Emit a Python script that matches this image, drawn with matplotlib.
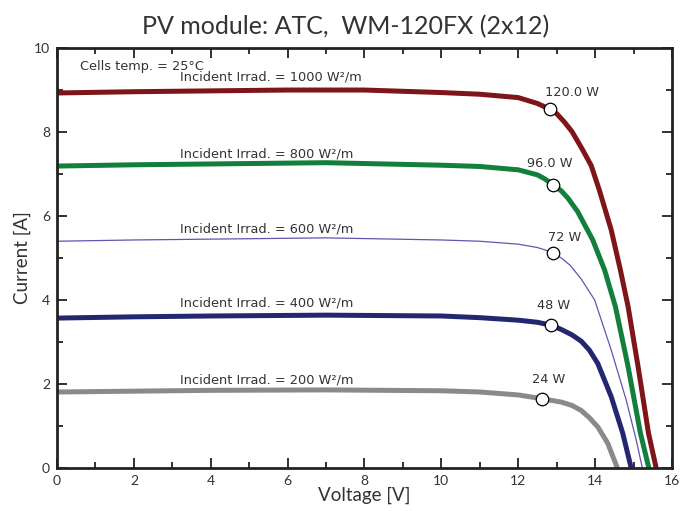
import numpy as np
import matplotlib
matplotlib.use("Agg")
import matplotlib.pyplot as plt
from matplotlib.ticker import MultipleLocator

# ---- data (voltage [V], current [A]) ----
v_1000 = [0, 2, 4, 6, 8, 10, 11, 12, 12.5, 12.83, 13.0, 13.2, 13.4, 13.68, 13.9, 14.11, 14.42, 14.66, 14.86, 15.12, 15.39, 15.59]
i_1000 = [8.93, 8.96, 8.98, 9.0, 9.0, 8.94, 8.9, 8.82, 8.68, 8.54, 8.44, 8.24, 8.01, 7.57, 7.2, 6.62, 5.67, 4.71, 3.84, 2.41, 0.83, 0.0]

v_800 = [0, 2, 4, 7, 10, 11, 12, 12.5, 12.7, 12.9, 13.12, 13.3, 13.55, 13.94, 14.25, 14.53, 14.86, 15.18, 15.4]
i_800 = [7.19, 7.22, 7.24, 7.27, 7.21, 7.18, 7.1, 6.98, 6.88, 6.75, 6.6, 6.42, 6.1, 5.43, 4.71, 3.84, 2.41, 0.83, 0.0]

v_600 = [0, 2, 4, 7, 10, 11, 12, 12.5, 12.91, 13.12, 13.35, 13.64, 13.99, 14.42, 14.81, 15.07, 15.23]
i_600 = [5.40, 5.43, 5.45, 5.48, 5.43, 5.40, 5.33, 5.25, 5.13, 5.0, 4.83, 4.5, 4.0, 2.81, 1.62, 0.67, 0.0]

v_400 = [0, 2, 4, 7, 10, 11, 12, 12.5, 12.86, 13.12, 13.4, 13.64, 13.85, 14.07, 14.42, 14.72, 14.94]
i_400 = [3.57, 3.60, 3.62, 3.64, 3.62, 3.58, 3.52, 3.47, 3.40, 3.30, 3.17, 3.02, 2.81, 2.49, 1.70, 0.83, 0.0]

v_200 = [0, 2, 4, 7, 10, 11, 12, 12.62, 13.12, 13.4, 13.64, 13.85, 14.07, 14.33, 14.58]
i_200 = [1.81, 1.83, 1.85, 1.86, 1.84, 1.81, 1.74, 1.65, 1.57, 1.49, 1.37, 1.2, 0.98, 0.59, 0.0]

# maximum power points and their labels
mpp_v = [12.83, 12.9, 12.91, 12.86, 12.62]
mpp_i = [8.54, 6.75, 5.13, 3.40, 1.65]
mpp_labels = ["120.0 W", "96.0 W", "72 W", "48 W", "24 W"]
mpp_label_v = [13.4, 12.83, 13.2, 12.93, 12.8]
mpp_label_i = [8.95, 7.26, 5.5, 3.88, 2.1]

irrad = [1000, 800, 600, 400, 200]
irrad_label_i = [9.31, 7.48, 5.69, 3.93, 2.1]

curves = [(v_1000, i_1000), (v_800, i_800), (v_600, i_600), (v_400, i_400), (v_200, i_200)]
colors = ["#7e1518", "#12803c", "#6a50b0", "#23276f", "#8a8a8a"]
widths = [3.6, 3.6, 0.9, 3.6, 3.6]

# ---- figure ----
plt.rcParams['font.family'] = ['Lato', 'DejaVu Sans']
text_col = "#333333"
small = dict(fontsize=9.3, color=text_col, family=['DejaVu Sans'])

fig = plt.figure(figsize=(6.92, 5.11), dpi=100)
ax = fig.add_axes([0.0824, 0.0841, 0.8886, 0.8219])

for (v, i), c, w in zip(curves, colors, widths):
    ax.plot(v, i, color=c, lw=w, solid_capstyle='butt', solid_joinstyle='round', zorder=2)

ax.plot(mpp_v, mpp_i, 'o', ms=9, mfc='white', mec='black', mew=0.9, zorder=3)

for lab, x, y in zip(mpp_labels, mpp_label_v, mpp_label_i):
    ax.text(x, y, lab, ha='center', va='center', **small)

for irr, y in zip(irrad, irrad_label_i):
    ax.text(3.2, y, f"Incident Irrad. = {irr} W²/m", ha='left', va='center', **small)

ax.text(0.6, 9.57, "Cells temp. = 25°C", ha='left', va='center', **small)

ax.set_xlim(0, 16)
ax.set_ylim(0, 10)
ax.xaxis.set_major_locator(MultipleLocator(2))
ax.xaxis.set_minor_locator(MultipleLocator(1))
ax.yaxis.set_major_locator(MultipleLocator(2))
ax.yaxis.set_minor_locator(MultipleLocator(1))
ax.tick_params(which='both', direction='in', top=True, right=True,
               labelsize=10, labelcolor=text_col, width=1.3, color='#222222')
ax.tick_params(which='major', length=7)
ax.tick_params(which='minor', length=4)
ax.tick_params(axis='x', pad=5)
ax.tick_params(axis='y', pad=5)
for s in ax.spines.values():
    s.set_linewidth(2)
    s.set_color('#222222')

ax.set_xlabel("Voltage [V]", fontsize=13.5, color=text_col, labelpad=0)
ax.set_ylabel("Current [A]", fontsize=13.5, color=text_col, labelpad=2)
fig.suptitle("PV module: ATC,  WM-120FX (2x12)", fontsize=18, color=text_col, y=0.97)

fig.savefig("out.png", dpi=100)
